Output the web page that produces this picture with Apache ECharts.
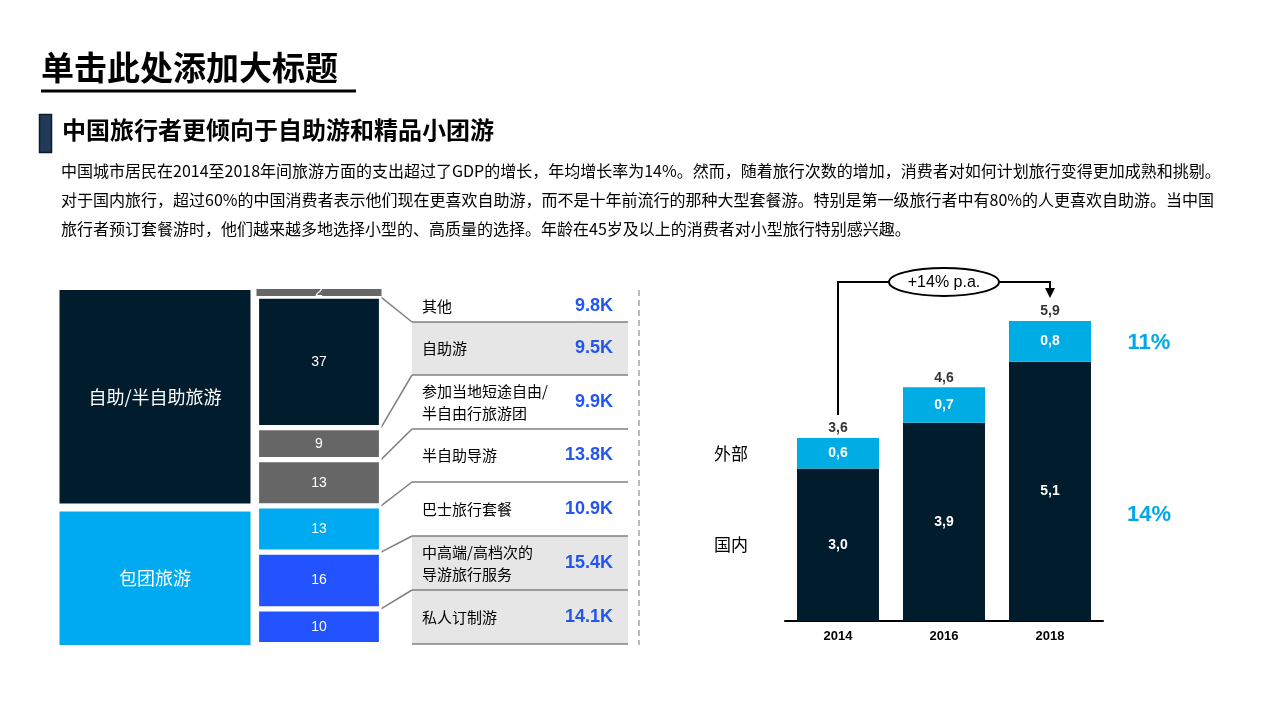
<!DOCTYPE html>
<html><head><meta charset="utf-8">
<script src="https://cdn.jsdelivr.net/npm/echarts@6/dist/echarts.min.js"></script>
<style>html,body{margin:0;padding:0;background:#fff}#c{width:1280px;height:720px}</style>
</head><body><div id="c"></div>
<script>
const FONT = '"Liberation Sans", Arial, "Noto Sans CJK SC", sans-serif';
const CJK = '"Noto Sans CJK SC", "Liberation Sans", sans-serif';

// ---- text ----
const mainTitle = '单击此处添加大标题';
const subTitle = '中国旅行者更倾向于自助游和精品小团游';
const bodyLines = [
  '中国城市居民在2014至2018年间旅游方面的支出超过了GDP的增长，年均增长率为14%。然而，随着旅行次数的增加，消费者对如何计划旅行变得更加成熟和挑剔。',
  '对于国内旅行，超过60%的中国消费者表示他们现在更喜欢自助游，而不是十年前流行的那种大型套餐游。特别是第一级旅行者中有80%的人更喜欢自助游。当中国',
  '旅行者预订套餐游时，他们越来越多地选择小型的、高质量的选择。年龄在45岁及以上的消费者对小型旅行特别感兴趣。'
];

// ---- left: shares (%) ----
const groupNames = ['自助/半自助旅游', '包团旅游'];
const groupShares = [61, 39];
const segShares = [2, 37, 9, 13, 13, 16, 10];          // top to bottom
const rowLabels = ['其他', '自助游', '参加当地短途自由/\n半自由行旅游团', '半自助导游', '巴士旅行套餐', '中高端/高档次的\n导游旅行服务', '私人订制游'];
const rowValues = ['9.8K', '9.5K', '9.9K', '13.8K', '10.9K', '15.4K', '14.1K'];

// ---- right: spending ----
const years = ['2014', '2016', '2018'];
const seriesNames = ['国内', '外部'];
const domestic = [3.0, 3.9, 5.1];
const outbound = [0.6, 0.7, 0.8];
const totals = [3.6, 4.6, 5.9];
const growthLabels = ['14%', '11%'];   // domestic, outbound
const cagrLabel = '+14% p.a.';

// ---- styles ----
const NAVY = '#011C2D', CYAN = '#00AAF0', BLUE = '#2253FF', GREY = '#666666';
const groupColors = [NAVY, CYAN];
const segColors = [GREY, NAVY, GREY, GREY, CYAN, BLUE, BLUE];
const rowBg = ['#fff', '#E6E6E6', '#fff', '#fff', '#fff', '#E6E6E6', '#E6E6E6'];
const rowEdges = [290, 322, 375, 429, 482, 536, 590, 644];
const TBL_L = 412, TBL_R = 628;

const chart = echarts.init(document.getElementById('c'));
const fmt = v => v.toFixed(1).replace('.', ',');

const series = [];
// group column (grid 0), stacked bottom-up
for (let i = groupShares.length - 1; i >= 0; i--) {
  series.push({
    type: 'bar', name: groupNames[i], xAxisIndex: 0, yAxisIndex: 0, stack: 'g',
    barWidth: '100%', data: [groupShares[i]],
    itemStyle: { color: groupColors[i], borderColor: '#fff', borderWidth: 4 },
    label: { show: true, position: 'inside', formatter: groupNames[i], color: '#fff', fontSize: 18, fontFamily: CJK },
    silent: true
  });
}
// segment column (grid 1)
for (let i = segShares.length - 1; i >= 0; i--) {
  const tiny = i === 0;
  series.push({
    type: 'bar', name: 's' + i, xAxisIndex: 1, yAxisIndex: 1, stack: 's',
    barWidth: '100%', data: [segShares[i]],
    itemStyle: tiny ? { color: segColors[i], borderWidth: 0 } : { color: segColors[i], borderColor: '#fff', borderWidth: 2.6 },
    label: { show: true, position: 'inside', formatter: String(segShares[i]), color: '#fff', fontSize: 14, fontFamily: FONT },
    silent: true
  });
}
// right chart
series.push({
  type: 'bar', name: seriesNames[0], xAxisIndex: 2, yAxisIndex: 2, stack: 'y', barWidth: 82,
  data: domestic, itemStyle: { color: NAVY },
  label: { show: true, position: 'inside', formatter: p => fmt(p.value), color: '#fff', fontSize: 14, fontWeight: 'bold', fontFamily: FONT }
});
series.push({
  type: 'bar', name: seriesNames[1], xAxisIndex: 2, yAxisIndex: 2, stack: 'y', barWidth: 82,
  data: outbound, itemStyle: { color: '#00ACE4' },
  label: { show: true, position: 'inside', formatter: p => fmt(p.value), color: '#fff', fontSize: 14, fontWeight: 'bold', fontFamily: FONT }
});
series.push({
  type: 'scatter', xAxisIndex: 2, yAxisIndex: 2, symbolSize: 1, data: totals,
  itemStyle: { color: 'rgba(0,0,0,0)' }, silent: true,
  label: { show: true, position: 'top', distance: 2, formatter: p => fmt(p.value), color: '#000', fontSize: 14, fontWeight: 'bold', fontFamily: FONT }
});

chart.setOption({
  animation: false,
  grid: [
    { left: 55.5, top: 286, width: 199, height: 363, outerBoundsMode: 'none' },
    { left: 256.5, top: 289, width: 125, height: 355.5, outerBoundsMode: 'none' },
    { left: 785, top: 316, width: 318, height: 305, outerBoundsMode: 'none' }
  ],
  xAxis: [
    { gridIndex: 0, type: 'category', data: ['a'], show: false },
    { gridIndex: 1, type: 'category', data: ['b'], show: false },
    { gridIndex: 2, type: 'category', data: years,
      axisLine: { lineStyle: { color: '#000', width: 2 } }, axisTick: { show: false },
      axisLabel: { color: '#000', fontSize: 13, fontWeight: 'bold', fontFamily: FONT, margin: 9 } }
  ],
  yAxis: [
    { gridIndex: 0, type: 'value', min: 0, max: 100, show: false },
    { gridIndex: 1, type: 'value', min: 0, max: 100, show: false },
    { gridIndex: 2, type: 'value', min: 0, max: 6, show: false }
  ],
  series
});

// ---- decorations positioned from the axes ----
const g = [];
// titles
g.push({ type: 'text', left: 41, top: 51, style: { text: mainTitle, font: 'bold 33px ' + CJK, fill: '#000' } });
g.push({ type: 'rect', shape: { x: 41, y: 89.5, width: 315, height: 3 }, style: { fill: '#000' } });
g.push({ type: 'rect', shape: { x: 39.5, y: 114.5, width: 12, height: 38 }, style: { fill: '#203A58', stroke: '#0E1B2A', lineWidth: 1.5 } });
g.push({ type: 'text', left: 62, top: 118, style: { text: subTitle, font: 'bold 24px ' + CJK, fill: '#000' } });
bodyLines.forEach((t, i) => {
  g.push({ type: 'text', left: 61, top: 163 + i * 29, style: { text: t, font: '16px ' + CJK, fill: '#000' } });
});

// table
for (let i = 0; i < rowLabels.length; i++) {
  const y0 = rowEdges[i], y1 = rowEdges[i + 1], cy = (y0 + y1) / 2;
  g.push({ type: 'rect', shape: { x: TBL_L, y: y0, width: TBL_R - TBL_L, height: y1 - y0 }, style: { fill: rowBg[i] }, z: 1 });
  g.push({ type: 'text', x: 422, y: cy, style: { text: rowLabels[i], font: '15px ' + CJK, fill: '#000', verticalAlign: 'middle', lineHeight: 22 }, z: 3 });
  g.push({ type: 'text', x: 613, y: cy, style: { text: rowValues[i], font: 'bold 18px ' + FONT, fill: '#2355F0', align: 'right', verticalAlign: 'middle' }, z: 3 });
  g.push({ type: 'line', shape: { x1: TBL_L, y1: y1, x2: TBL_R, y2: y1 }, style: { stroke: '#808080', lineWidth: 1.5 }, z: 2 });
}
// connectors from segment boundaries to row boundaries
let cum = 0;
for (let i = 0; i < segShares.length - 1; i++) {
  cum += segShares[i];
  const p = chart.convertToPixel({ xAxisIndex: 1, yAxisIndex: 1 }, [0, 100 - cum]);
  g.push({ type: 'line', shape: { x1: 381, y1: p[1] + (i === 0 ? 1 : 0), x2: TBL_L, y2: rowEdges[i + 1] }, style: { stroke: '#808080', lineWidth: 1.5 }, z: 2 });
}
// dashed separator
g.push({ type: 'line', shape: { x1: 639, y1: 290, x2: 639, y2: 645 }, style: { stroke: '#BBBBBB', lineWidth: 2, lineDash: [6, 4] } });

// right chart annotations
const pO = chart.convertToPixel({ xAxisIndex: 2, yAxisIndex: 2 }, [0, domestic[0] + outbound[0] / 2]);
const pD = chart.convertToPixel({ xAxisIndex: 2, yAxisIndex: 2 }, [0, domestic[0] / 2]);
g.push({ type: 'text', x: 731, y: pO[1], style: { text: seriesNames[1], font: '17px ' + CJK, fill: '#000', align: 'center', verticalAlign: 'middle' } });
g.push({ type: 'text', x: 731, y: pD[1], style: { text: seriesNames[0], font: '17px ' + CJK, fill: '#000', align: 'center', verticalAlign: 'middle' } });
const pG = chart.convertToPixel({ xAxisIndex: 2, yAxisIndex: 2 }, [2, domestic[2] + outbound[2] / 2]);
g.push({ type: 'text', x: 1149, y: pG[1] + 2, style: { text: growthLabels[1], font: 'bold 22px ' + FONT, fill: '#00A8E8', align: 'center', verticalAlign: 'middle' } });
g.push({ type: 'text', x: 1149, y: 515, style: { text: growthLabels[0], font: 'bold 22px ' + FONT, fill: '#00A8E8', align: 'center', verticalAlign: 'middle' } });

const a0 = chart.convertToPixel({ xAxisIndex: 2, yAxisIndex: 2 }, [0, totals[0]]);
const a2 = chart.convertToPixel({ xAxisIndex: 2, yAxisIndex: 2 }, [2, totals[2]]);
const BY = 282, ex = (a0[0] + a2[0]) / 2, rx = 55, ry = 14;
g.push({ type: 'polyline', shape: { points: [[a0[0], a0[1] - 23], [a0[0], BY], [ex - rx, BY]] }, style: { stroke: '#000', lineWidth: 2, fill: null } });
g.push({ type: 'polyline', shape: { points: [[ex + rx, BY], [a2[0], BY], [a2[0], 290]] }, style: { stroke: '#000', lineWidth: 2, fill: null } });
g.push({ type: 'polygon', shape: { points: [[a2[0] - 5, 288], [a2[0] + 5, 288], [a2[0], 298]] }, style: { fill: '#000' } });
g.push({ type: 'ellipse', shape: { cx: ex, cy: BY, rx: rx, ry: ry }, style: { fill: '#fff', stroke: '#000', lineWidth: 2 } });
g.push({ type: 'text', x: ex, y: BY + 1, style: { text: cagrLabel, font: '16px ' + FONT, fill: '#000', align: 'center', verticalAlign: 'middle' } });

chart.setOption({ graphic: { elements: g } });
</script></body></html>
